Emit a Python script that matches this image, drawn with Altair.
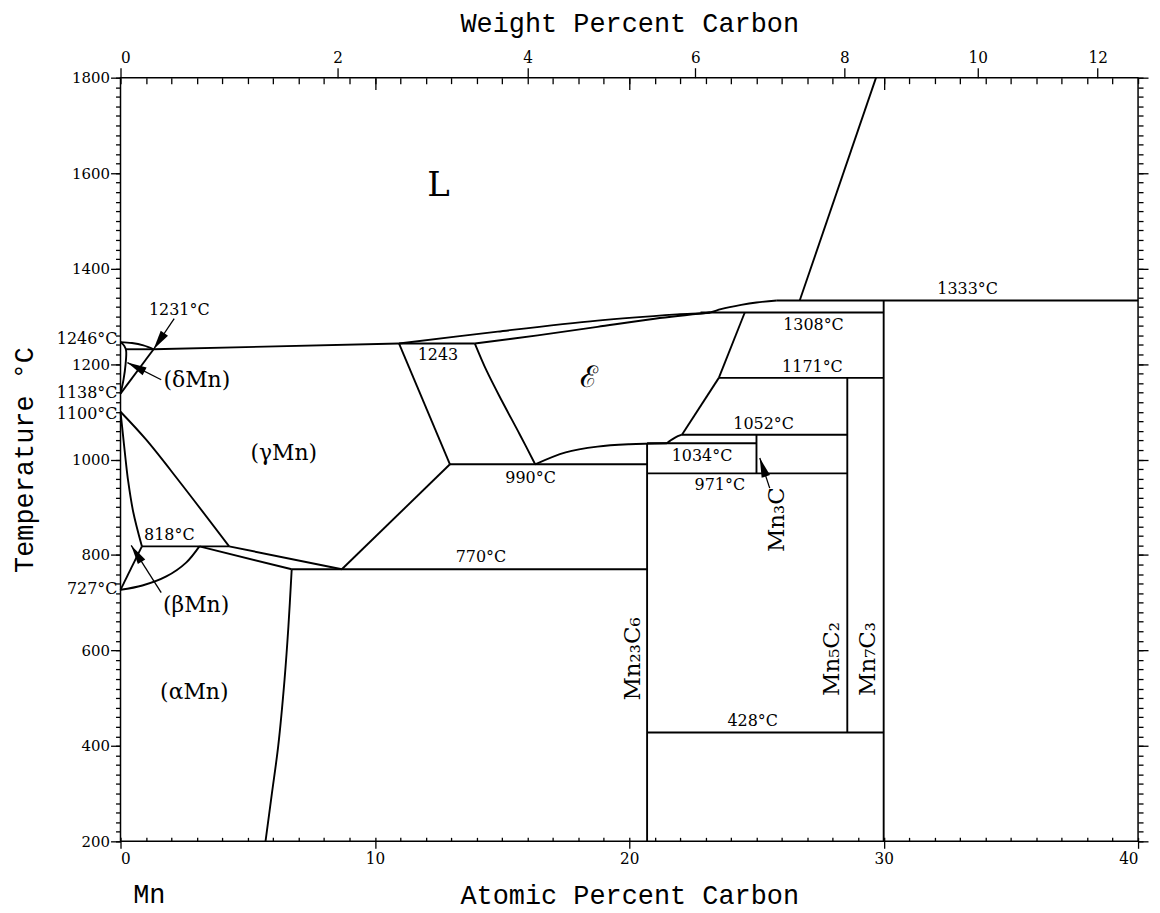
import math
import altair as alt
import pandas as pd

# ---------------- phase boundaries (atomic % C, temperature °C) ----------------
delta_liquidus = [(0, 1246), (0.45, 1244), (0.9, 1239), (1.3, 1231)]
delta_solvus = [(0, 1246), (0.15, 1238), (0.22, 1228), (0.2, 1200), (0.12, 1168), (0.0, 1138)]
line_1231 = [(0.2, 1231), (1.3, 1231)]
gamma_delta = [(0, 1138), (1.3, 1231)]
gamma_liquidus = [(1.3, 1231), (10.95, 1243)]
beta_gamma_left = [(0, 1100), (0.1, 1050), (0.2, 1000), (0.3, 955), (0.5, 890), (0.84, 818)]
beta_gamma_right = [(0, 1100), (1.0, 1042), (2.3, 955), (4.27, 818)]
line_818 = [(0.84, 818), (4.27, 818)]
alpha_beta_left = [(0, 727), (0.84, 818)]
alpha_beta_arc = [(0, 727), (0.86, 736), (1.8, 755), (2.58, 784), (3.1, 818)]
alpha_beta_low = [(3.1, 818), (6.73, 770)]
beta_gamma_low = [(4.27, 818), (8.7, 770)]
line_770 = [(6.73, 770), (20.7, 770)]
alpha_solvus = [(6.73, 770), (6.6, 650), (6.45, 540), (6.2, 400), (5.95, 300), (5.7, 200)]
gamma_carbide = [(8.7, 770), (12.95, 990)]
line_990 = [(12.95, 990), (20.7, 990)]
gamma_eps_left = [(10.95, 1243), (12.95, 990)]
line_1243 = [(10.95, 1243), (13.93, 1243)]
gamma_eps_right = [(13.93, 1243), (14.4, 1185), (15.0, 1122), (15.7, 1052), (16.3, 990)]
liquidus = [(10.95, 1243), (14.83, 1268), (18.75, 1291), (21.88, 1304), (23.17, 1308),
            (23.6, 1315), (24.4, 1324), (25.0, 1329), (25.8, 1333)]
eps_solidus = [(13.93, 1243), (16.4, 1260), (18.75, 1278), (21.0, 1295), (23.17, 1308)]
line_1308 = [(22.8, 1308), (30, 1308)]
eps_mn7c3 = [(23.52, 1171), (24.54, 1308)]
line_1171 = [(23.52, 1171), (30, 1171)]
eps_mn5c2 = [(23.52, 1171), (22.07, 1052)]
eps_hook = [(22.07, 1052), (21.8, 1046), (21.6, 1039), (21.48, 1034)]
line_1052 = [(22.07, 1052), (28.57, 1052)]
line_1034 = [(20.7, 1034), (25.0, 1034)]
line_971 = [(20.7, 971), (28.57, 971)]
eps_mn23c6 = [(16.3, 990), (17.5, 1015), (18.75, 1027), (20.0, 1032), (21.48, 1034)]
mn23c6 = [(20.7, 200), (20.7, 1034)]
mn3c = [(25.0, 971), (25.0, 1052)]
mn5c2 = [(28.57, 428), (28.57, 1171)]
mn7c3 = [(30, 200), (30, 1333)]
line_1333 = [(25.8, 1333), (40, 1333)]
line_428 = [(20.7, 428), (30, 428)]
liquidus_c = [(26.7, 1333), (29.7, 1800)]

boundaries = {
    "delta_liquidus": delta_liquidus, "delta_solvus": delta_solvus, "line_1231": line_1231,
    "gamma_delta": gamma_delta, "gamma_liquidus": gamma_liquidus,
    "beta_gamma_left": beta_gamma_left, "beta_gamma_right": beta_gamma_right,
    "line_818": line_818, "alpha_beta_left": alpha_beta_left, "alpha_beta_arc": alpha_beta_arc,
    "alpha_beta_low": alpha_beta_low, "beta_gamma_low": beta_gamma_low, "line_770": line_770,
    "alpha_solvus": alpha_solvus, "gamma_carbide": gamma_carbide, "line_990": line_990,
    "gamma_eps_left": gamma_eps_left, "line_1243": line_1243, "gamma_eps_right": gamma_eps_right,
    "liquidus": liquidus, "eps_solidus": eps_solidus, "line_1308": line_1308,
    "eps_mn7c3": eps_mn7c3, "line_1171": line_1171, "eps_mn5c2": eps_mn5c2, "eps_hook": eps_hook,
    "line_1052": line_1052, "line_1034": line_1034, "line_971": line_971,
    "eps_mn23c6": eps_mn23c6, "mn23c6": mn23c6, "mn3c": mn3c, "mn5c2": mn5c2, "mn7c3": mn7c3,
    "line_1333": line_1333, "line_428": line_428, "liquidus_c": liquidus_c,
}

# ---------------- arrows (tail -> tip) ----------------
arrow_tails = [(2.11, 1295), (1.6, 1167), (1.6, 721), (25.52, 940)]
arrow_tips = [(1.3, 1231), (0.27, 1203), (0.42, 820), (25.13, 1003)]

# ---------------- annotation text ----------------
temp_text = ["1231°C", "818°C", "1243", "990°C", "770°C", "1308°C", "1333°C",
             "1171°C", "1052°C", "1034°C", "971°C", "428°C"]
temp_x = [2.31, 1.92, 12.48, 16.12, 14.17, 27.24, 33.3, 27.2, 25.28, 22.86, 23.56, 24.85]
temp_y = [1314, 842, 1218, 961, 795, 1281, 1358, 1193, 1074, 1007, 947, 452]

left_text = ["1246°C", "1138°C", "1100°C", "727°C"]
left_x = [-0.12, -0.12, -0.12, -0.12]
left_y = [1253, 1139, 1095, 728]

phase_text = ["(δMn)", "(γMn)", "(βMn)", "(αMn)"]
phase_x = [3.0, 6.42, 2.97, 2.9]
phase_y = [1166, 1014, 696, 513]

eps_text = ["ℰ"]
eps_x = [18.43]
eps_y = [1170]

compound_text = ["Mn₂₃C₆", "Mn₃C", "Mn₅C₂", "Mn₇C₃"]
compound_x = [20.16, 25.79, 27.98, 29.39]
compound_y = [582, 874, 582, 582]

big_text = ["L"]
big_x = [12.5]
big_y = [1573]

foot_text = ["Mn"]
foot_x = [1.13]
foot_y = [87]

wt_ticks = [0, 2, 4, 6, 8, 10, 12]

# ---------------- helpers ----------------
W, H = 1022, 767
X_DOM, Y_DOM = [0, 40], [200, 1800]
PX_X = W / (X_DOM[1] - X_DOM[0])
PX_Y = H / (Y_DOM[1] - Y_DOM[0])


def wt_to_at(w):
    c = w / 12.011
    m = (100 - w) / 54.938
    return 100 * c / (c + m)


rows = []
for name, pts in boundaries.items():
    for i, (x, y) in enumerate(pts):
        rows.append({"seg": name, "o": i, "x": x, "y": y})
lines_df = pd.DataFrame(rows)

arow = []
hrow = []
for k, (tail, tip) in enumerate(zip(arrow_tails, arrow_tips)):
    arow.append({"seg": f"a{k}", "o": 0, "x": tail[0], "y": tail[1]})
    arow.append({"seg": f"a{k}", "o": 1, "x": tip[0], "y": tip[1]})
    dx = (tip[0] - tail[0]) * PX_X
    dy = -(tip[1] - tail[1]) * PX_Y
    L = math.hypot(dx, dy)
    ux, uy = dx / L, dy / L
    ang = math.degrees(math.atan2(ux, -uy)) % 360
    back = 10.5
    hrow.append({"x": tip[0] - ux * back / PX_X, "y": tip[1] + uy * back / PX_Y, "ang": ang})
arrows_df = pd.DataFrame(arow)
heads_df = pd.DataFrame(hrow)

xs = alt.Scale(domain=X_DOM, nice=False, zero=False)
ys = alt.Scale(domain=Y_DOM, nice=False, zero=False)

TICK_FONT = "DejaVu Serif Condensed, Liberation Serif"
SERIF = "DejaVu Serif"
MONO = "Liberation Mono"

lines = alt.Chart(lines_df).mark_line(color="black", strokeWidth=1.9, interpolate="catmull-rom").encode(
    x=alt.X("x:Q", scale=xs, axis=None),
    y=alt.Y("y:Q", scale=ys, axis=None),
    detail="seg:N",
    order="o:Q",
)

arrow_lines = alt.Chart(arrows_df).mark_line(color="black", strokeWidth=1.3).encode(
    x=alt.X("x:Q", scale=xs, axis=None),
    y=alt.Y("y:Q", scale=ys, axis=None),
    detail="seg:N",
    order="o:Q",
)

heads = alt.Chart(heads_df).mark_point(
    shape="M0,-1L0.42,0.85L-0.42,0.85Z", filled=True, color="black", opacity=1, size=440, strokeWidth=0
).encode(
    x=alt.X("x:Q", scale=xs, axis=None),
    y=alt.Y("y:Q", scale=ys, axis=None),
    angle=alt.Angle("ang:Q", scale=None),
)


def text_layer(texts, xv, yv, size, font=SERIF, align="center", angle=0):
    df = pd.DataFrame({"t": texts, "x": xv, "y": yv})
    return alt.Chart(df).mark_text(
        font=font, fontSize=size, color="black", align=align, baseline="middle", angle=angle
    ).encode(
        x=alt.X("x:Q", scale=xs, axis=None),
        y=alt.Y("y:Q", scale=ys, axis=None),
        text="t:N",
    )


t_temps = text_layer(temp_text, temp_x, temp_y, 16)
t_left = text_layer(left_text, left_x, left_y, 16, align="right")
t_phase = text_layer(phase_text, phase_x, phase_y, 22)
t_eps = text_layer(eps_text, eps_x, eps_y, 30)
t_comp = text_layer(compound_text, compound_x, compound_y, 23, angle=270)
t_big = text_layer(big_text, big_x, big_y, 34)
t_foot = text_layer(foot_text, foot_x, foot_y, 27, font=MONO)

# ---------------- axes ----------------
dummy = pd.DataFrame({"x": X_DOM, "y": Y_DOM})


def axis_layer(xaxis, yaxis):
    return alt.Chart(dummy).mark_point(opacity=0).encode(
        x=alt.X("x:Q", scale=xs, axis=xaxis),
        y=alt.Y("y:Q", scale=ys, axis=yaxis),
    )


common = dict(domain=False, grid=False, tickColor="black", tickWidth=1.3,
              labelColor="black", titleColor="black", titleFontWeight="normal")

ax_bottom = alt.Axis(orient="bottom", values=[0, 10, 20, 30, 40], tickSize=7, labelFont=TICK_FONT,
                     labelFontSize=17, labelPadding=2, format="d", title="Atomic Percent Carbon",
                     titleFont=MONO, titleFontSize=27, titleY=54, titleBaseline="middle", **common)
ax_left = alt.Axis(orient="left", values=list(range(200, 1801, 200)), tickSize=10, labelFont=SERIF,
                   labelFontSize=15, labelPadding=1, format="d", title="Temperature °C", titleFont=MONO,
                   titleFontSize=27, titleX=-96, titleAngle=270, titleBaseline="middle",
                   titleAlign="center", **common)
ax_bottom_minor = alt.Axis(orient="bottom", offset=-4, values=list(range(0, 41)), tickSize=4,
                           labels=False, title=None, **common)
ax_left_minor = alt.Axis(orient="left", values=list(range(200, 1801, 20)), tickSize=5,
                         labels=False, title=None, **common)
ax_top = alt.Axis(orient="top", values=[wt_to_at(w) for w in wt_ticks], tickSize=10,
                  labelFont=TICK_FONT, labelFontSize=17, labelPadding=1,
                  labelExpr="format(round(100*datum.value*12.011/(datum.value*12.011+(100-datum.value)*54.938)), 'd')",
                  title="Weight Percent Carbon", titleFont=MONO, titleFontSize=27, titleY=-54,
                  titleBaseline="middle", **common)
ax_right = alt.Axis(orient="right", values=list(range(200, 1801, 200)), tickSize=10,
                    labels=False, title=None, **common)
ax_top_minor = alt.Axis(orient="top", offset=-6, values=list(range(0, 41)), tickSize=6,
                        labels=False, title=None, **common)
ax_right_minor = alt.Axis(orient="right", values=list(range(200, 1801, 20)), tickSize=5,
                          labels=False, title=None, **common)
ax_top_major = alt.Axis(orient="top", offset=-12, values=[10, 20, 30], tickSize=12,
                        labels=False, title=None, **common)

axes_layers = [
    axis_layer(ax_bottom, ax_left),
    axis_layer(ax_bottom_minor, ax_left_minor),
    axis_layer(ax_top, ax_right),
    axis_layer(ax_top_minor, ax_right_minor),
    axis_layer(ax_top_major, None),
]

chart = alt.layer(
    *axes_layers, lines, arrow_lines, heads, t_temps, t_left, t_phase, t_eps, t_comp, t_big, t_foot
).resolve_scale(x="shared", y="shared").resolve_axis(x="independent", y="independent").properties(
    width=W, height=H,
    autosize=alt.AutoSizeParams(type="none"),
    padding={"left": 113, "top": 68, "right": 14, "bottom": 70},
    background="white",
).configure_view(stroke="black", strokeWidth=1.5)

chart.save("out.html", embed_options={"renderer": "svg", "actions": False})
